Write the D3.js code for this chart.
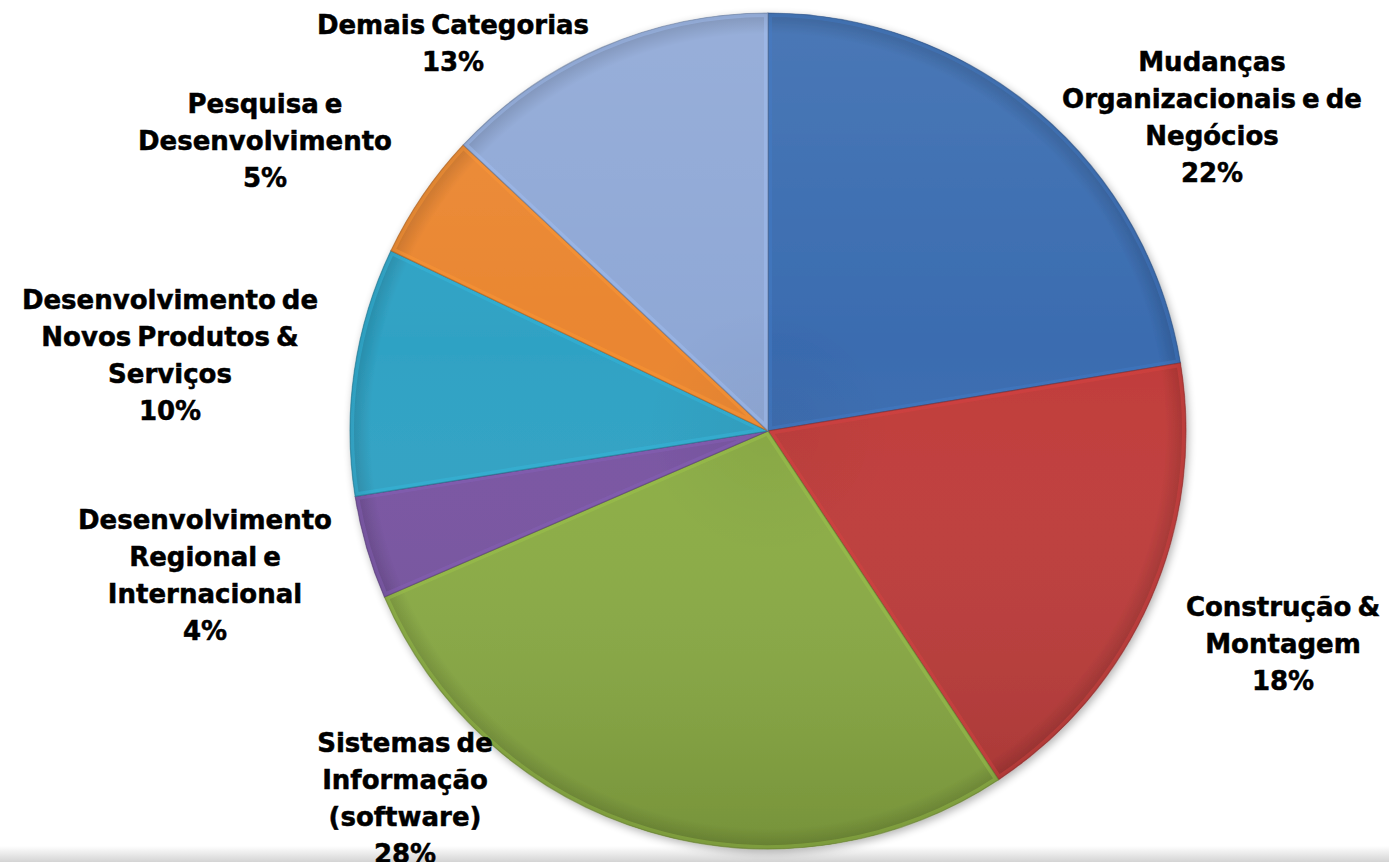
<!DOCTYPE html>
<html>
<head>
<meta charset="utf-8">
<script src="https://cdn.jsdelivr.net/npm/d3@7"></script>
<style>
  html, body { margin: 0; padding: 0; background: #fff; }
  svg { display: block; }
  .lbl { font-family: "DejaVu Sans", Verdana, sans-serif; font-weight: bold; font-size: 26px; fill: #000;
         stroke: #000; stroke-width: 0.5px; word-spacing: -3px; }
</style>
</head>
<body>
<div id="chart"></div>
<script>
// Categories, clockwise from 12 o'clock
var categories = [
    "Mudanças Organizacionais e de Negócios",
    "Construção & Montagem",
    "Sistemas de Informação (software)",
    "Desenvolvimento Regional e Internacional",
    "Desenvolvimento de Novos Produtos & Serviços",
    "Pesquisa e Desenvolvimento",
    "Demais Categorias"
];

// Share of each category (%)
var shares = [22.4, 18.3, 27.8, 4.0, 9.6, 4.9, 13.0];

// Percent text as printed on the chart
var pctLabels = ["22%", "18%", "28%", "4%", "10%", "5%", "13%"];

// How each category name is broken over lines
var labelLines = [
    ["Mudanças", "Organizacionais e de", "Negócios"],
    ["Construção &", "Montagem"],
    ["Sistemas de", "Informação", "(software)"],
    ["Desenvolvimento", "Regional e", "Internacional"],
    ["Desenvolvimento de", "Novos Produtos &", "Serviços"],
    ["Pesquisa e", "Desenvolvimento"],
    ["Demais Categorias"]
];

var sliceColors = ["#3a6cb0", "#c03c3a", "#8cae44", "#7854a2", "#2fa2c4", "#ea8630", "#8fa8d6"];

// layout
var width = 1389, height = 862;
var cx = 768, cy = 431, radius = 418;
var lineHeight = 37;
// centre of the first label line for each slice (layout only)
var labelAnchors = [[1212, 62], [1283, 607], [405, 743], [205, 520], [170, 300], [265, 104], [453, 25]];

var svg = d3.select("#chart").append("svg")
    .attr("width", width)
    .attr("height", height);

var defs = svg.append("defs");

// grey strip at the bottom of the picture
var strip = defs.append("linearGradient")
    .attr("id", "strip").attr("x1", 0).attr("y1", 0).attr("x2", 0).attr("y2", 1);
strip.append("stop").attr("offset", "0%").attr("stop-color", "#ffffff");
strip.append("stop").attr("offset", "100%").attr("stop-color", "#d4d4d4");

svg.append("rect")
    .attr("x", 0).attr("y", 846)
    .attr("width", width).attr("height", height - 846)
    .attr("fill", "url(#strip)");

// soft shadow round the pie
var shadow = defs.append("filter").attr("id", "shadow")
    .attr("x", "-10%").attr("y", "-10%").attr("width", "120%").attr("height", "120%");
shadow.append("feGaussianBlur").attr("in", "SourceAlpha").attr("stdDeviation", 4);
shadow.append("feOffset").attr("dx", 2).attr("dy", 3).attr("result", "blur");
shadow.append("feComponentTransfer").append("feFuncA").attr("type", "linear").attr("slope", 0.3);
var merge = shadow.append("feMerge");
merge.append("feMergeNode");
merge.append("feMergeNode").attr("in", "SourceGraphic");

// rim shading, darker right at the outer edge
var rim = defs.append("radialGradient")
    .attr("id", "rim")
    .attr("gradientUnits", "userSpaceOnUse")
    .attr("cx", 0).attr("cy", 0).attr("r", radius);
rim.append("stop").attr("offset", "0%").attr("stop-color", "#000").attr("stop-opacity", 0.04);
rim.append("stop").attr("offset", "30%").attr("stop-color", "#000").attr("stop-opacity", 0);
rim.append("stop").attr("offset", "95%").attr("stop-color", "#000").attr("stop-opacity", 0);
rim.append("stop").attr("offset", "100%").attr("stop-color", "#000").attr("stop-opacity", 0.15);

// top light, bottom dark
var light = defs.append("linearGradient")
    .attr("id", "light").attr("gradientUnits", "userSpaceOnUse")
    .attr("x1", 0).attr("y1", -radius).attr("x2", 0).attr("y2", radius);
light.append("stop").attr("offset", "0%").attr("stop-color", "#fff").attr("stop-opacity", 0.08);
light.append("stop").attr("offset", "40%").attr("stop-color", "#fff").attr("stop-opacity", 0);
light.append("stop").attr("offset", "100%").attr("stop-color", "#000").attr("stop-opacity", 0.16);

var pie = d3.pie().sort(null).value(function(d) { return d; });
var arcs = pie(shares);

var arc = d3.arc().innerRadius(0).outerRadius(radius);

var g = svg.append("g")
    .attr("transform", "translate(" + cx + "," + cy + ")");

// one clip path per slice for the bevel highlight (same user space as the slices)
arcs.forEach(function(d, i) {
    defs.append("clipPath").attr("id", "clip" + i)
        .attr("clipPathUnits", "userSpaceOnUse")
        .append("path").attr("d", arc(d));
});

var pieGroup = g.append("g").attr("filter", "url(#shadow)");

var slices = pieGroup.selectAll(".slice")
    .data(arcs)
    .enter().append("g")
    .attr("class", "slice");

slices.append("path")
    .attr("d", arc)
    .attr("fill", function(d, i) { return sliceColors[i]; });

slices.append("path")
    .attr("d", arc)
    .attr("fill", "url(#light)");

slices.append("path")
    .attr("d", arc)
    .attr("fill", "url(#rim)");

// bevel: light edge just inside each slice
slices.append("g")
    .attr("clip-path", function(d, i) { return "url(#clip" + i + ")"; })
    .append("path")
    .attr("d", arc)
    .attr("fill", "none")
    .attr("stroke", function(d, i) { return d3.color(sliceColors[i]).brighter(0.4); })
    .attr("stroke-opacity", 0.4)
    .attr("stroke-width", 8);

// thin dark seam
slices.append("path")
    .attr("d", arc)
    .attr("fill", "none")
    .attr("stroke", function(d, i) { return d3.color(sliceColors[i]).darker(1); })
    .attr("stroke-opacity", 0.55)
    .attr("stroke-width", 1.2);

// labels
var labels = svg.selectAll(".lbl")
    .data(arcs)
    .enter().append("text")
    .attr("class", "lbl")
    .attr("text-anchor", "middle")
    .attr("x", function(d, i) { return labelAnchors[i][0]; })
    .attr("y", function(d, i) { return labelAnchors[i][1]; });

labels.each(function(d, i) {
    var t = d3.select(this);
    var lines = labelLines[i].concat([pctLabels[i]]);
    lines.forEach(function(line, j) {
        t.append("tspan")
            .attr("x", labelAnchors[i][0])
            .attr("y", labelAnchors[i][1] + j * lineHeight)
            .attr("dy", "0.36em")
            .text(line);
    });
});
</script>
</body>
</html>
